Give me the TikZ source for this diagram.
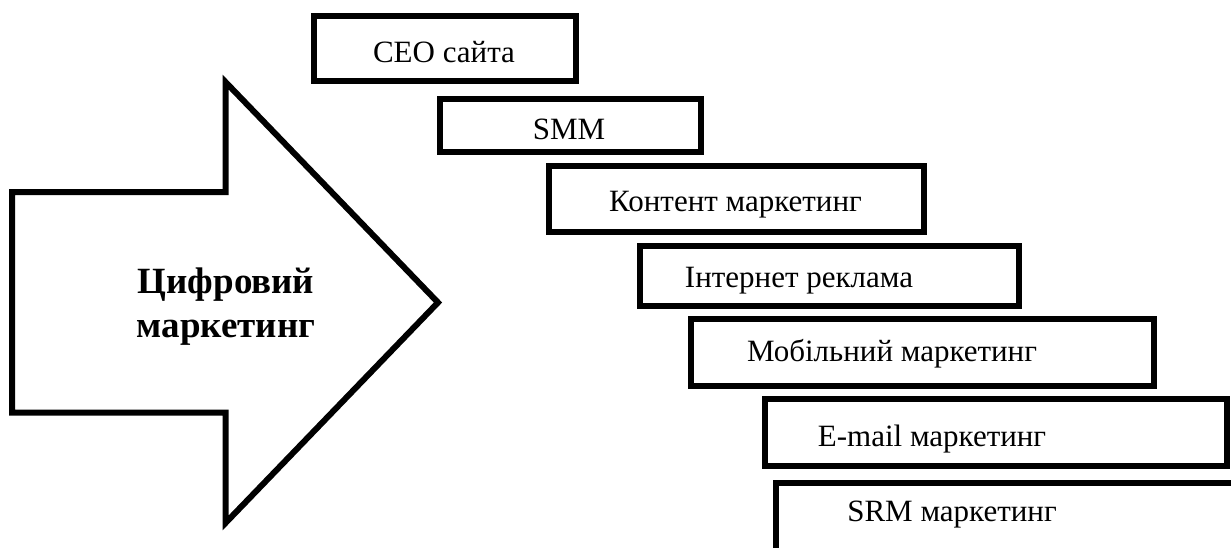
\documentclass[tikz,border=0pt]{standalone}
\usepackage{fontspec}
\setmainfont{Liberation Serif}
\begin{document}
\begin{tikzpicture}[x=1pt,y=-1pt,
  box/.style={draw=black, line width=6pt, rectangle, inner sep=0pt, outer sep=0pt},
  lbl/.style={anchor=base, font=\fontsize{31}{36}\selectfont, inner sep=0pt},
  big/.style={font=\bfseries\fontsize{37}{44}\selectfont, align=center, inner sep=0pt}]
\useasboundingbox (0,0) rectangle (1231,547);
% big arrow
\draw[line width=6pt, line join=miter] (12,192) -- (225.5,192) -- (225.5,82) -- (438,302.5)
  -- (225.5,523) -- (225.5,412.5) -- (12,412.5) -- cycle;
\node[big] (main) at (226,307) {Цифровий\\маркетинг};
% boxes
\begin{scope}
\clip (0,0) rectangle (1231,547);
\node[box, minimum width=262.5pt, minimum height=64.5pt] (b1) at (444.75,48.25) {};
\node[box, minimum width=261.5pt, minimum height=53pt] (b2) at (570.25,125.5) {};
\node[box, minimum width=375.5pt, minimum height=66pt] (b3) at (736.25,199) {};
\node[box, minimum width=379.5pt, minimum height=60pt] (b4) at (829.25,275.5) {};
\node[box, minimum width=463pt, minimum height=67pt] (b5) at (922.5,352.5) {};
\node[box, minimum width=461.5pt, minimum height=67pt] (b6) at (995.75,432.5) {};
\node[box, minimum width=524pt, minimum height=117pt] (b7) at (1038,541.5) {};
\end{scope}
\node[lbl] (t1) at (444,62) {СЕО сайта};
\node[lbl] (t2) at (569,139) {SMM};
\node[lbl] (t3) at (735.5,211) {Контент маркетинг};
\node[lbl] (t4) at (799,287) {Інтернет реклама};
\node[lbl] (t5) at (892,361) {Мобільний маркетинг};
\node[lbl] (t6) at (932,446) {E-mail маркетинг};
\node[lbl] (t7) at (952,521) {SRM маркетинг};
\end{tikzpicture}
\end{document}
